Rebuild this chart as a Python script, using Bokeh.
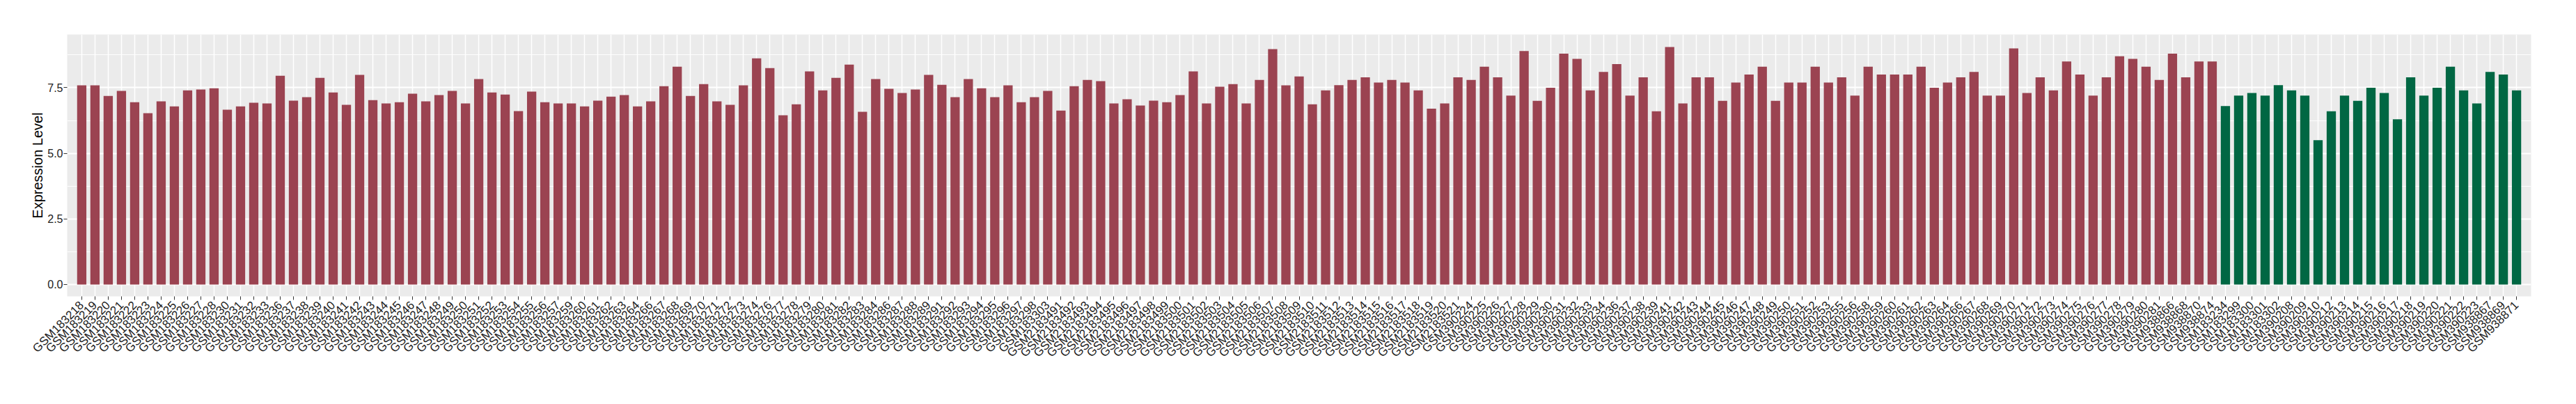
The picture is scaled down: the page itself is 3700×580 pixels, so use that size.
from bokeh.plotting import figure
from bokeh.models import FactorRange, Range1d, FixedTicker, PrintfTickFormatter, ColumnDataSource
from bokeh.transform import factor_cmap
from bokeh.embed import file_html
from bokeh.resources import INLINE
import math

red_samples = (
    ["GSM1832%d" % n for n in [18, 19, 20, 21, 22, 23, 24, 25, 26, 27, 28, 30, 31, 32, 33,
                               36, 37, 38, 39, 40, 41, 42, 43, 44, 45, 46, 47, 48, 49, 50,
                               51, 52, 53, 54, 55, 56, 57, 59, 60, 61, 62, 63, 64, 66, 67,
                               68, 69, 70, 71, 72, 73, 74, 76, 77, 78, 79, 80, 81, 82, 83,
                               84, 86, 87, 88, 89, 91, 92, 93, 94, 95, 96, 97, 98]]
    + ["GSM183303"]
    + ["GSM2183%d" % n for n in range(491, 522)]
    + ["GSM390%d" % n for n in [224, 225, 226, 227, 228, 229, 230, 231, 232, 233, 234, 236,
                                237, 238, 239, 241, 242, 243, 244, 245, 246, 247, 248, 249,
                                250, 251, 252, 253, 255, 256, 258, 259, 260, 261, 262, 263,
                                264, 266, 267, 268, 269, 270, 271, 272, 273, 274, 275, 276,
                                277, 278, 279, 280, 281]]
    + ["GSM938866", "GSM938868", "GSM938870", "GSM938874"]
)

green_samples = (
    ["GSM183234", "GSM183299", "GSM183300", "GSM183301", "GSM183302"]
    + ["GSM390%d" % n for n in [208, 209, 210, 212, 213, 214, 215, 216, 217, 218, 219, 220,
                                221, 222, 223]]
    + ["GSM938867", "GSM938869", "GSM938871"]
)

red_values = [
    7.59, 7.59, 7.19, 7.38, 6.95, 6.53, 6.98, 6.79, 7.40, 7.43,
    7.48, 6.66, 6.79, 6.93, 6.90, 7.96, 7.01, 7.14, 7.88, 7.32,
    6.85, 7.99, 7.03, 6.90, 6.95, 7.27, 6.98, 7.22, 7.38, 6.90,
    7.83, 7.32, 7.24, 6.61, 7.35, 6.95, 6.90, 6.90, 6.79, 7.01,
    7.16, 7.22, 6.79, 6.98, 7.56, 8.30, 7.19, 7.64, 6.98, 6.85,
    7.59, 8.62, 8.25, 6.45, 6.87, 8.12, 7.40, 7.88, 8.38, 6.58,
    7.83, 7.46, 7.30, 7.43, 7.99, 7.61, 7.14, 7.83, 7.48, 7.14,
    7.59, 6.95, 7.14, 7.38, 6.63, 7.56, 7.80, 7.75, 6.90, 7.06,
    6.82, 7.01, 6.95, 7.22, 8.12, 6.90, 7.54, 7.64, 6.90, 7.80,
    8.97, 7.59, 7.93, 6.87,
    7.4, 7.6, 7.8, 7.9, 7.7, 7.8, 7.7, 7.4, 6.7, 6.9,
    7.9, 7.8, 8.3, 7.9, 7.2, 8.9, 7.0, 7.5, 8.8, 8.6,
    7.4, 8.1, 8.4, 7.2, 7.9, 6.6, 9.05, 6.9, 7.9, 7.9,
    7.0, 7.7, 8.0, 8.3, 7.0, 7.7, 7.7, 8.3, 7.7, 7.9,
    7.2, 8.3, 8.0, 8.0, 8.0, 8.3, 7.5, 7.7, 7.9, 8.1,
    7.2, 7.2, 9.0, 7.3, 7.9, 7.4, 8.5, 8.0, 7.2, 7.9,
    8.7, 8.6, 8.3, 7.8, 8.8, 7.9, 8.5, 8.5,
]

green_values = [
    6.8, 7.2, 7.3, 7.2, 7.6, 7.4, 7.2, 5.5, 6.6, 7.2,
    7.0, 7.5, 7.3, 6.3, 7.9, 7.2, 7.5, 8.3, 7.4, 6.9,
    8.1, 8.0, 7.4,
]

groups = ["red"] * len(red_samples) + ["green"] * len(green_samples)
samples = red_samples + green_samples
values = red_values + green_values

y_ticks = [0, 2.5, 5.0, 7.5]
y_minor = [1.25, 3.75, 6.25, 8.75]

source = ColumnDataSource(data=dict(sample=samples, value=values, group=groups))

n = len(samples)
p = figure(
    width=3684, height=564,
    x_range=FactorRange(factors=samples, range_padding=1.2 / n, range_padding_units="percent"),
    y_range=Range1d(-0.454, 9.53),
    output_backend="svg", toolbar_location=None,
    min_border_left=96, min_border_right=49, min_border_top=49, min_border_bottom=139,
)

p.vbar(x="sample", top="value", bottom=0, width=0.7, source=source,
       fill_color=factor_cmap("group", palette=["#9B4351", "#006743"], factors=["red", "green"]),
       line_color=None)

p.background_fill_color = "#EBEBEB"
p.border_fill_color = "white"
p.outline_line_color = None

p.xgrid.grid_line_color = "white"
p.xgrid.grid_line_width = 1.5
p.ygrid.grid_line_color = "white"
p.ygrid.grid_line_width = 1.8
p.ygrid.minor_grid_line_color = "white"
p.ygrid.minor_grid_line_width = 0.9

p.yaxis.ticker = FixedTicker(ticks=y_ticks, minor_ticks=y_minor)
p.yaxis.formatter = PrintfTickFormatter(format="%.1f")
p.yaxis.axis_label = "Expression Level"
p.yaxis.axis_label_text_font = "Liberation Sans"
p.yaxis.axis_label_text_font_size = "20px"
p.yaxis.axis_label_text_font_style = "normal"
p.yaxis.axis_label_text_color = "black"
p.yaxis.axis_label_standoff = 0

for ax in (p.xaxis, p.yaxis):
    ax.axis_line_color = None
    ax.major_tick_line_color = "#333333"
    ax.major_tick_line_width = 1
    ax.major_tick_out = 5
    ax.major_tick_in = 0
    ax.minor_tick_line_color = None
    ax.major_label_text_font = "Liberation Sans"
    ax.major_label_text_font_size = "16px"
    ax.major_label_text_color = "#222222"

p.xaxis.major_label_text_font_size = "17px"
p.yaxis.major_label_standoff = 1
p.xaxis.major_label_standoff = 5
p.xaxis.major_label_orientation = math.pi / 4

open("out.html", "w").write(file_html(p, INLINE))
